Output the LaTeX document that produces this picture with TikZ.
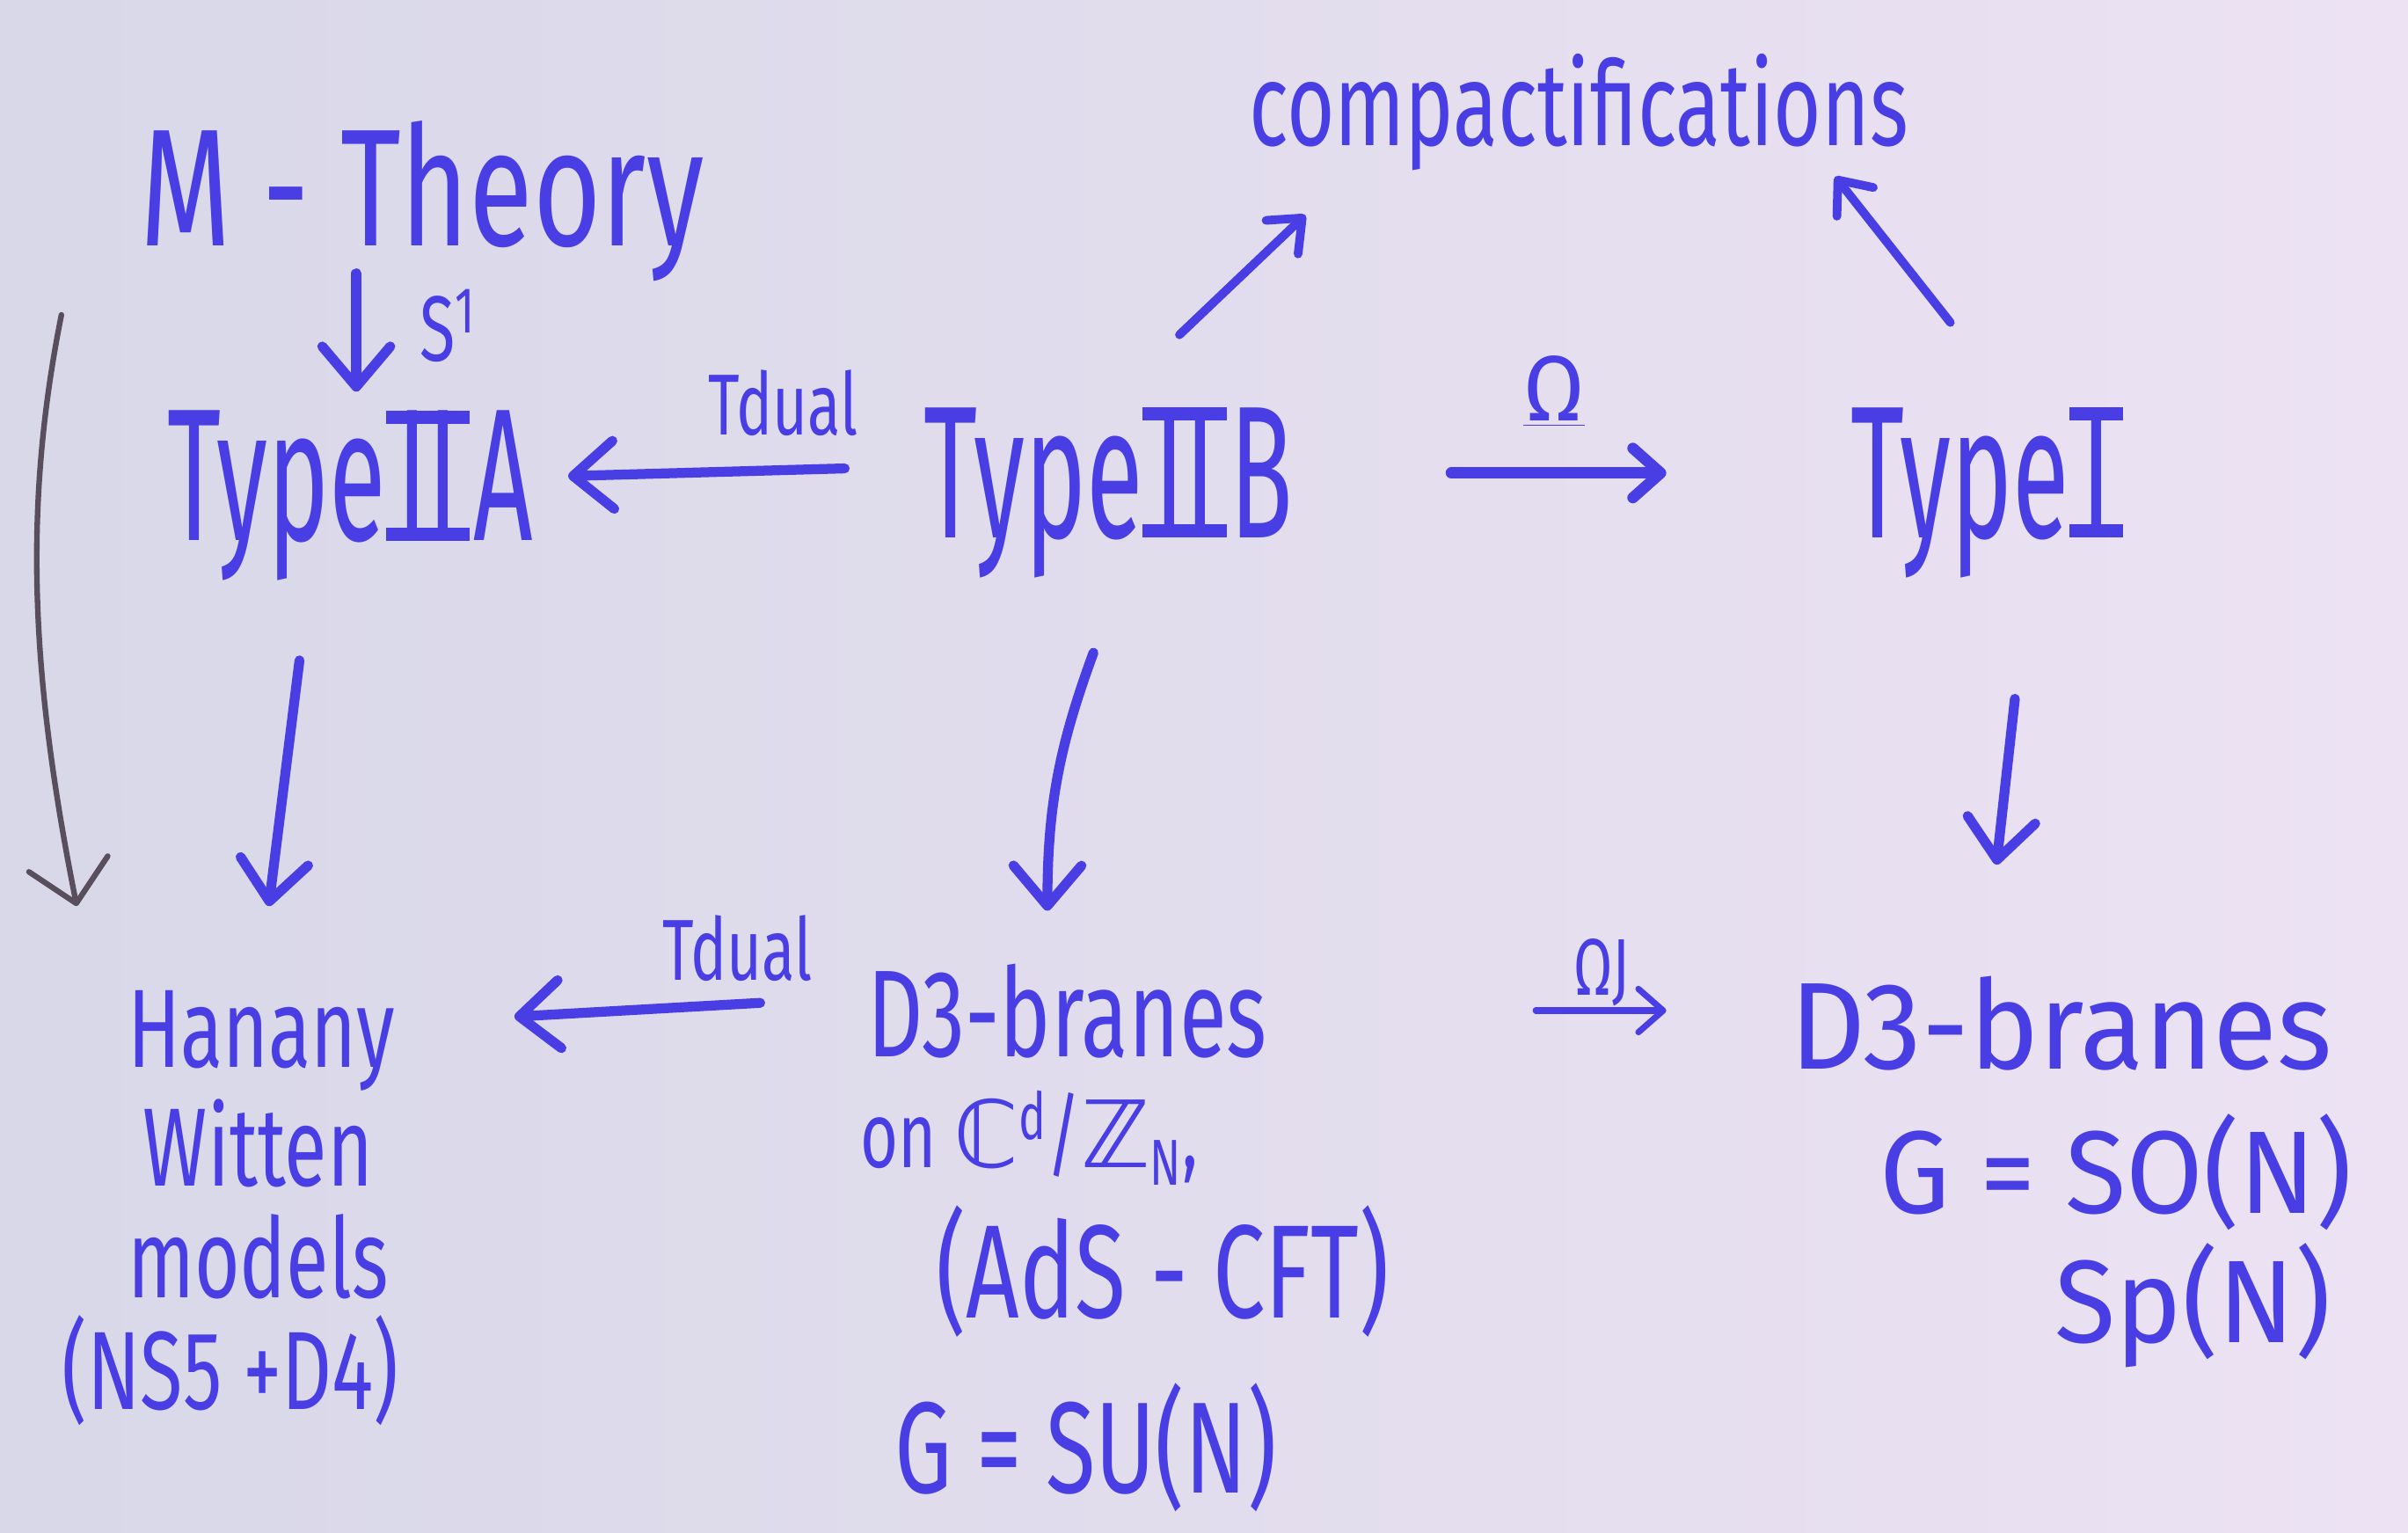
\documentclass[tikz,border=0pt]{standalone}
\usepackage{fontspec}
\usetikzlibrary{arrows.meta,calc}
\newfontfamily\hand{Fira Sans}[FakeStretch=0.7]
\newfontfamily\handn{Fira Sans}[FakeStretch=0.55]
\newfontfamily\handw{Fira Sans}[FakeStretch=0.95]
\newfontfamily\dvs{DejaVu Sans}
\definecolor{ink}{RGB}{72,62,228}
\definecolor{pencil}{RGB}{88,78,92}
\definecolor{bgl}{RGB}{216,216,232}
\definecolor{bgr}{RGB}{236,226,243}
\newcommand\RomN[1]{\setbox0\hbox{#1}%
  \hspace*{0.06em}\rlap{\hspace*{-0.06em}\rule{\dimexpr\wd0+0.12em\relax}{0.07em}}%
  \rlap{\hspace*{-0.06em}\rule[0.62em]{\dimexpr\wd0+0.12em\relax}{0.07em}}%
  \box0\hspace*{0.08em}}
\tikzset{
  txt/.style={text=ink, inner sep=0pt, anchor=base},
  fa/.style={font=\hand\fontsize{#1}{#1}\selectfont},
  fn/.style={font=\handn\fontsize{#1}{#1}\selectfont},
  fw/.style={font=\handw\fontsize{#1}{#1}\selectfont},
  arr/.style={draw=ink, line width=3.2pt, line cap=round, line join=round,
    -{Straight Barb[length=13pt,width=22pt,round]}},
  arrs/.style={draw=ink, line width=2.8pt, line cap=round, line join=round,
    -{Straight Barb[length=9pt,width=15pt,round]}},
  arrt/.style={draw=ink, line width=2pt, line cap=round, line join=round,
    -{Straight Barb[length=8pt,width=14pt,round]}},
  arrg/.style={draw=pencil, line width=1.8pt, line cap=round, line join=round,
    -{Straight Barb[length=13pt,width=26pt,round]}},
}
\begin{document}
\begin{tikzpicture}[x=0.017462cm, y=-0.017462cm]
\shade[left color=bgl, right color=bgr] (0,0) rectangle (1568,998);
\useasboundingbox (0,0) rectangle (1568,998);

% top row
\node[txt, fa=54] (mth) at (275,160) {M - Theory};
\node[txt, fa=38] (comp) at (1028,95) {compactifications};
\node[txt, fn=61] (iia) at (228,352) {Type\RomN{II}A};
\node[txt, fn=61] (iib) at (722,350) {Type\RomN{II}B};
\node[txt, fn=61] (ti) at (1295,350) {Type\RomN{I}};

% labels
\node[txt, fa=30] (s1) at (292,235) {S\textsuperscript{1}};
\node[txt, fa=28] (t1) at (510,283) {Tdual};
\node[txt, fw=30] (om) at (1012,274) {\underline{Ω}};
\node[txt, fa=28] (t2) at (480,638) {Tdual};
\node[txt, fa=26] (oj) at (1043,648) {ΩJ};

% Hanany-Witten
\node[txt, fa=36] (hw1) at (170,695) {Hanany};
\node[txt, fa=36] (hw2) at (168,772) {Witten};
\node[txt, fa=36] (hw3) at (168,845) {models};
\node[txt, fa=36] (hw4) at (150,918) {(NS5 +D4)};

% middle block
\node[txt, fa=40] (d3a) at (695,688) {D3-branes};
\node[txt, fa=30, anchor=base west] (on) at (560,760) {on {\dvs ℂ}\textsuperscript{d}/{\dvs ℤ}\textsubscript{N},};
\node[txt, fa=43] (ads) at (757,858) {(AdS - CFT)};
\node[txt, fa=42] (su) at (707,972) {G = SU(N)};

% right block
\node[txt, fw=40] (d3b) at (1342,696) {D3-branes};
\node[txt, fw=38] (so) at (1378,790) {G = SO(N)};
\node[txt, fw=38] (sp) at (1428,874) {Sp(N)};

% connectors
\draw[arr] ([shift={(-43,18)}]mth.base) -- ([shift={(4,-97)}]iia.base);
\draw[arr] ([shift={(-172,-45)}]iib.base) -- ([shift={(142,-42)}]iia.base);
\draw[arr, line width=3.6pt, -{Straight Barb[length=9pt,width=16pt,round]}] ([shift={(223,-42)}]iib.base) -- ([shift={(-210,-42)}]ti.base);
\draw[arrs] ([shift={(46,-132)}]iib.base) -- ([shift={(-178,45)}]comp.base);
\draw[arrs] ([shift={(-25,-140)}]ti.base) -- ([shift={(167,20)}]comp.base);
\draw[arr] ([shift={(-33,78)}]iia.base) -- ([shift={(5,-105)}]hw1.base);
\draw[arr] ([shift={(-10,75)}]iib.base) to[bend right=10] ([shift={(-13,-95)}]d3a.base);
\draw[arr] ([shift={(17,105)}]ti.base) -- ([shift={(-42,-133)}]d3b.base);
\draw[arr] ([shift={(-200,-35)}]d3a.base) -- ([shift={(165,-33)}]hw1.base);
\draw[arrt] ([shift={(305,-30)}]d3a.base) -- ([shift={(-257,-38)}]d3b.base);
\draw[arrg] ([shift={(-235,45)}]mth.base) .. controls +(-25,125) and +(-30,-150) .. ([shift={(-120,-105)}]hw1.base);
\end{tikzpicture}
\end{document}
